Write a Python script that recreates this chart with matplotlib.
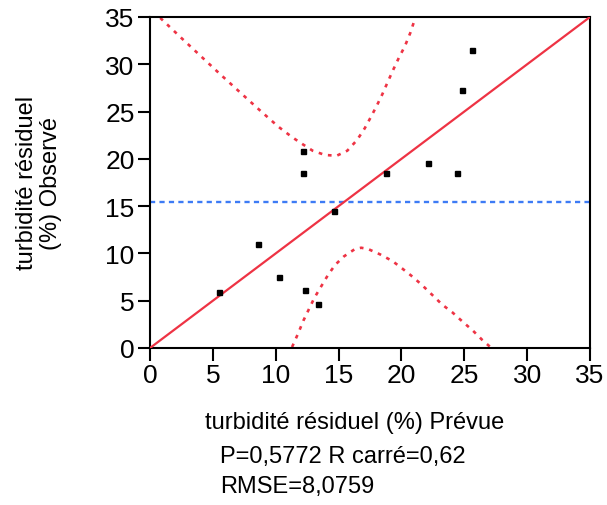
import numpy as np
import matplotlib.pyplot as plt

plt.rcParams['font.family'] = ['Liberation Sans', 'DejaVu Sans']

pred = [25.6, 24.8, 12.15, 12.15, 18.8, 22.1, 24.4, 14.6, 8.6, 5.5, 10.25, 12.3, 13.4]
obs = [31.5, 27.3, 20.8, 18.5, 18.5, 19.6, 18.5, 14.45, 11.0, 5.9, 7.5, 6.1, 4.7]
mean_obs = 15.4

# confidence curves
upper_x = [0.2, 0.85, 2.52, 4.06, 5.59, 7.16, 8.65, 10.21, 11.3, 11.99, 12.94, 13.92,
           14.85, 15.69, 16.47, 17.08, 17.6, 18.05, 18.48, 18.9, 19.35, 19.8, 20.28, 20.7, 21.2]
upper_y = [35.5, 34.86, 32.75, 30.84, 28.94, 27.04, 25.24, 23.4, 22.3, 21.68, 20.86, 20.41,
           20.33, 20.86, 21.99, 23.23, 24.5, 25.65, 26.83, 28.1, 29.43, 30.7, 31.93, 33.3, 35.3]
lower_x = [11.3, 11.8, 12.2, 12.62, 13.07, 13.65, 14.16, 14.72, 15.43, 16.31, 16.8, 17.34,
           18.3, 19.28, 20.05, 20.95, 21.69, 22.43, 23.25, 24.05, 24.87, 25.69, 26.43, 27.1]
lower_y = [0.1, 1.59, 2.89, 4.05, 5.29, 6.59, 7.72, 8.78, 9.69, 10.47, 10.6, 10.47,
           9.9, 9.2, 8.42, 7.47, 6.59, 5.64, 4.58, 3.77, 2.78, 1.83, 0.85, 0.07]

ticks = [0, 5, 10, 15, 20, 25, 30, 35]

W, H = 607, 506
fig = plt.figure(figsize=(W / 100, H / 100), dpi=100)
ax = fig.add_axes([150 / W, (H - 349) / H, 440 / W, 331 / H])

red = '#EE3344'
blue = '#3D7BF5'

ax.plot([0, 35], [0, 35], color=red, lw=1.6, zorder=3)
ax.axhline(mean_obs, color=blue, lw=1.7, dashes=(2.2, 1.8), zorder=2)
ax.plot(upper_x, upper_y, color=red, lw=1.9, dashes=(1.4, 2.2), zorder=2)
ax.plot(lower_x, lower_y, color=red, lw=1.9, dashes=(1.4, 2.2), zorder=2)
ax.plot(pred, obs, 's', color='black', ms=3.6, zorder=4)

ax.set_xlim(0, 35)
ax.set_ylim(0, 35)
ax.set_xticks(ticks)
ax.set_yticks(ticks)
ax.tick_params(axis='both', direction='out', length=9, width=1.5, labelsize=19,
               colors='black', pad=2)
for s in ax.spines.values():
    s.set_linewidth(1.5)
    s.set_color('black')

fig.text(39 / W, 1 - 183 / H, 'turbidité résiduel\n(%) Observé', rotation=90,
         ha='center', va='center', fontsize=17, linespacing=1.15)
fig.text(205 / W, 1 - 429 / H, 'turbidité résiduel (%) Prévue', ha='left',
         va='baseline', fontsize=17)
fig.text(220 / W, 1 - 463 / H, 'P=0,5772 R carré=0,62', ha='left',
         va='baseline', fontsize=17)
fig.text(220 / W, 1 - 493 / H, 'RMSE=8,0759', ha='left', va='baseline', fontsize=17)

fig.savefig('out.png', dpi=100)
